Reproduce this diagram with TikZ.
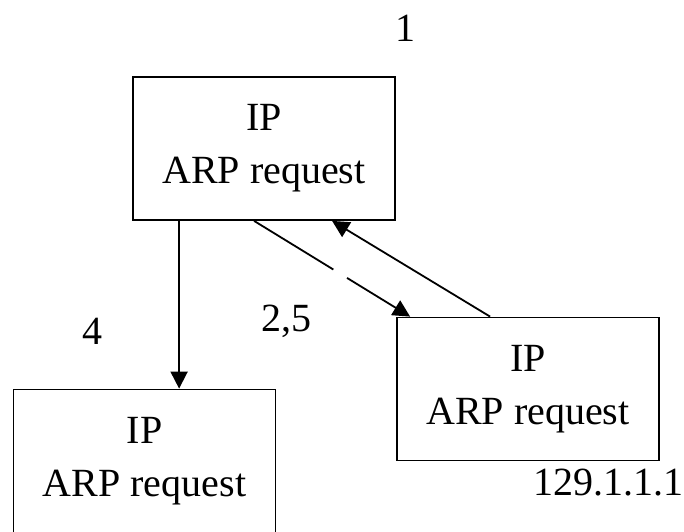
\documentclass[tikz,border=0pt]{standalone}
\usepackage{fontspec}
\setmainfont{Liberation Serif}
\usetikzlibrary{arrows.meta}

\begin{document}
\begin{tikzpicture}[x=1pt,y=-1pt,
    hostbox/.style={draw,line width=1.8pt,minimum width=262pt,minimum height=143pt,
      align=center,font=\fontsize{40}{53}\selectfont,inner sep=0pt},
    lbl/.style={font=\fontsize{40}{48}\selectfont,inner sep=0pt},
    tip/.style={-{Triangle[length=17pt,width=17pt]},line width=1.8pt}]
    \useasboundingbox (0,0) rectangle (684,531);
    \node[hostbox] (top) at (264,148.5) {IP\\ARP request};
    \node[hostbox] (right) at (528,389) {IP\\ARP request};
    \node[hostbox] (left) at (144.5,461) {IP\\ARP request};
    \node[lbl] (n1) at (405,28) {1};
    \node[lbl] (n4) at (92,331) {4};
    \node[lbl] (n25) at (286,321) {2,5};
    \node[lbl] (addr) at (608,483) {129.1.1.1};
    \draw[tip] ([xshift=47pt]top.south west) -- ([xshift=47pt]top.south west |- left.north);
    \draw[tip,dash pattern=on 93pt off 16pt on 200pt] ([xshift=122pt]top.south west) -- ([xshift=14pt]right.north west);
    \draw[tip] ([xshift=94pt]right.north west) -- ([xshift=200pt]top.south west);
\end{tikzpicture}
\end{document}
